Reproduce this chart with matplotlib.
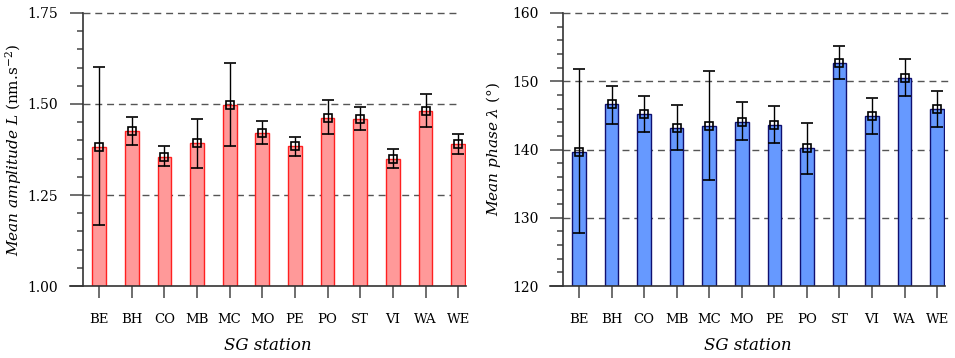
import numpy as np
import matplotlib
matplotlib.use('Agg')
import matplotlib.pyplot as plt
from matplotlib.ticker import MultipleLocator

plt.rcParams['font.family'] = 'DejaVu Serif'
plt.rcParams['mathtext.fontset'] = 'dejavuserif'

stations = ['BE', 'BH', 'CO', 'MB', 'MC', 'MO', 'PE', 'PO', 'ST', 'VI', 'WA', 'WE']

# mean amplitude and its error bar ends
amp_mean = [1.383, 1.427, 1.355, 1.392, 1.497, 1.419, 1.384, 1.462, 1.459, 1.350, 1.482, 1.390]
amp_low = [1.167, 1.387, 1.330, 1.325, 1.385, 1.389, 1.358, 1.417, 1.428, 1.325, 1.437, 1.363]
amp_high = [1.603, 1.465, 1.385, 1.459, 1.613, 1.452, 1.410, 1.510, 1.491, 1.377, 1.527, 1.418]

# mean phase and its error bar ends
ph_mean = [139.7, 146.6, 145.2, 143.2, 143.5, 144.1, 143.6, 140.2, 152.7, 144.9, 150.5, 145.9]
ph_low = [127.7, 143.8, 142.6, 140.0, 135.5, 141.4, 140.9, 136.4, 150.3, 142.3, 147.8, 143.3]
ph_high = [151.8, 149.3, 147.8, 146.5, 151.5, 147.0, 146.4, 143.9, 155.2, 147.5, 153.3, 148.6]

fig = plt.figure(figsize=(9.55, 3.58), dpi=100)
ax1 = fig.add_axes([0.0733, 0.2011, 0.4147, 0.7626])
ax2 = fig.add_axes([0.5759, 0.2011, 0.4136, 0.7626])

x = np.arange(len(stations))
spine_x = -0.5


def draw(ax, mean, low, high, fill, edge, ylim, major, minor, ylabel, grid_end, lab_x):
    mean = np.array(mean)
    err = [mean - np.array(low), np.array(high) - mean]
    ax.bar(x, mean - ylim[0], bottom=ylim[0], width=0.42, color=fill,
           edgecolor=edge, linewidth=1, zorder=2)
    ax.errorbar(x, mean, yerr=err, fmt='s', mfc='none', mec='black', ms=5.5,
                mew=1.2, ecolor='black', elinewidth=1, capsize=4.5, capthick=1,
                zorder=3)
    for g in np.arange(ylim[0] + major, ylim[1] + major / 2, major):
        ax.plot([spine_x, grid_end], [g, g], ls=(0, (5, 3.5)), color='#555555',
                lw=1, zorder=1, clip_on=False)
    ax.set_xlim(-0.89, 11.24)
    ax.set_ylim(*ylim)
    ax.spines['top'].set_visible(False)
    ax.spines['right'].set_visible(False)
    ax.spines['left'].set_position(('data', spine_x))
    for s in ['left', 'bottom']:
        ax.spines[s].set_color('#333333')
        ax.spines[s].set_linewidth(1.2)
    ax.yaxis.set_major_locator(MultipleLocator(major))
    ax.yaxis.set_minor_locator(MultipleLocator(minor))
    ax.tick_params(axis='y', which='major', direction='out', length=9.5,
                   width=1.2, color='#555555', pad=8, labelsize=10)
    ax.tick_params(axis='y', which='minor', direction='out', length=4.5,
                   width=1.2, color='#555555')
    ax.set_xticks(x)
    ax.set_xticklabels(stations)
    ax.tick_params(axis='x', direction='out', length=8.5, width=1.2,
                   color='#555555', pad=11, labelsize=9.5)
    ax.set_xlabel('SG station', fontstyle='italic', fontsize=12, labelpad=8)
    ax.set_ylabel(ylabel, fontsize=11)
    ax.yaxis.set_label_coords(lab_x, 0.5)


draw(ax1, amp_mean, amp_low, amp_high, '#ff9999', '#ff2020', (1.0, 1.75),
     0.25, 0.05, r'$\mathit{Mean\ amplitude\ L}$ (nm.s$^{-2}$)', 11.03, -0.116)
ax1.yaxis.set_major_formatter(matplotlib.ticker.FormatStrFormatter('%.2f'))
draw(ax2, ph_mean, ph_low, ph_high, '#6699ff', '#101070', (120, 160),
     10, 2, r'$\mathit{Mean\ phase\ \lambda}$ (°)', 11.33, -0.119)

fig.savefig('out.png', dpi=100)
